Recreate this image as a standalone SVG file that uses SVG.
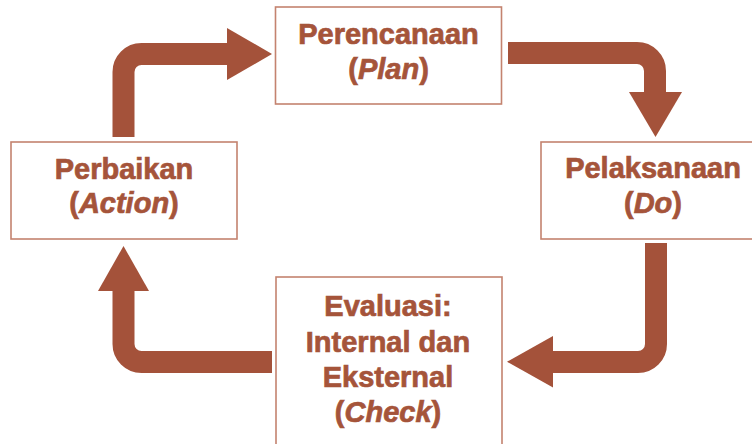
<svg xmlns="http://www.w3.org/2000/svg" width="752" height="444" viewBox="0 0 752 444">
<style>
.box{fill:#fff;stroke:#c4836f;stroke-width:1.6}
.t{font-family:Arial,"Liberation Sans",sans-serif;font-weight:700;font-size:29px;fill:#a5543a;stroke:#a5543a;stroke-width:0.7;text-anchor:middle}
.t tspan.i{font-style:italic}
.shaft{fill:none;stroke:#a4523a;stroke-width:22}
.head{fill:#a4523a}
</style>
<rect width="752" height="444" fill="#fff"/>
<g id="connectors">
  <g id="a-action-plan">
    <path class="shaft" d="M123.5,137 V72 A18,18 0 0 1 141.5,54 H229"/>
    <polygon class="head" points="227,28 272,54 227,80"/>
  </g>
  <g id="a-plan-do">
    <path class="shaft" d="M508,53 H637 A18,18 0 0 1 655,71 V94"/>
    <polygon class="head" points="629,92 682,92 655.5,137"/>
  </g>
  <g id="a-do-check">
    <path class="shaft" d="M656,243 V344 A18,18 0 0 1 638,362 H551"/>
    <polygon class="head" points="553,336 553,387.5 507,361.8"/>
  </g>
  <g id="a-check-action">
    <path class="shaft" d="M272,362 H141.5 A18,18 0 0 1 123.5,344 V289"/>
    <polygon class="head" points="98,291 149,291 123.5,246"/>
  </g>
</g>
<g id="plan">
  <rect class="box" x="275.5" y="7" width="226" height="97"/>
  <text class="t" x="388.5" y="44">Perencanaan</text>
  <text class="t" x="388.5" y="79">(<tspan class="i">Plan</tspan>)</text>
</g>
<g id="do">
  <rect class="box" x="541" y="142" width="226" height="97"/>
  <text class="t" x="653" y="178">Pelaksanaan</text>
  <text class="t" x="653" y="213">(<tspan class="i">Do</tspan>)</text>
</g>
<g id="action">
  <rect class="box" x="11" y="142" width="226" height="97"/>
  <text class="t" x="124" y="179">Perbaikan</text>
  <text class="t" x="124" y="213">(<tspan class="i">Action</tspan>)</text>
</g>
<g id="check">
  <rect class="box" x="276" y="277" width="226" height="180"/>
  <text class="t" x="388" y="316">Evaluasi:</text>
  <text class="t" x="388" y="352">Internal dan</text>
  <text class="t" x="388" y="387">Eksternal</text>
  <text class="t" x="388" y="422">(<tspan class="i">Check</tspan>)</text>
</g>
</svg>
